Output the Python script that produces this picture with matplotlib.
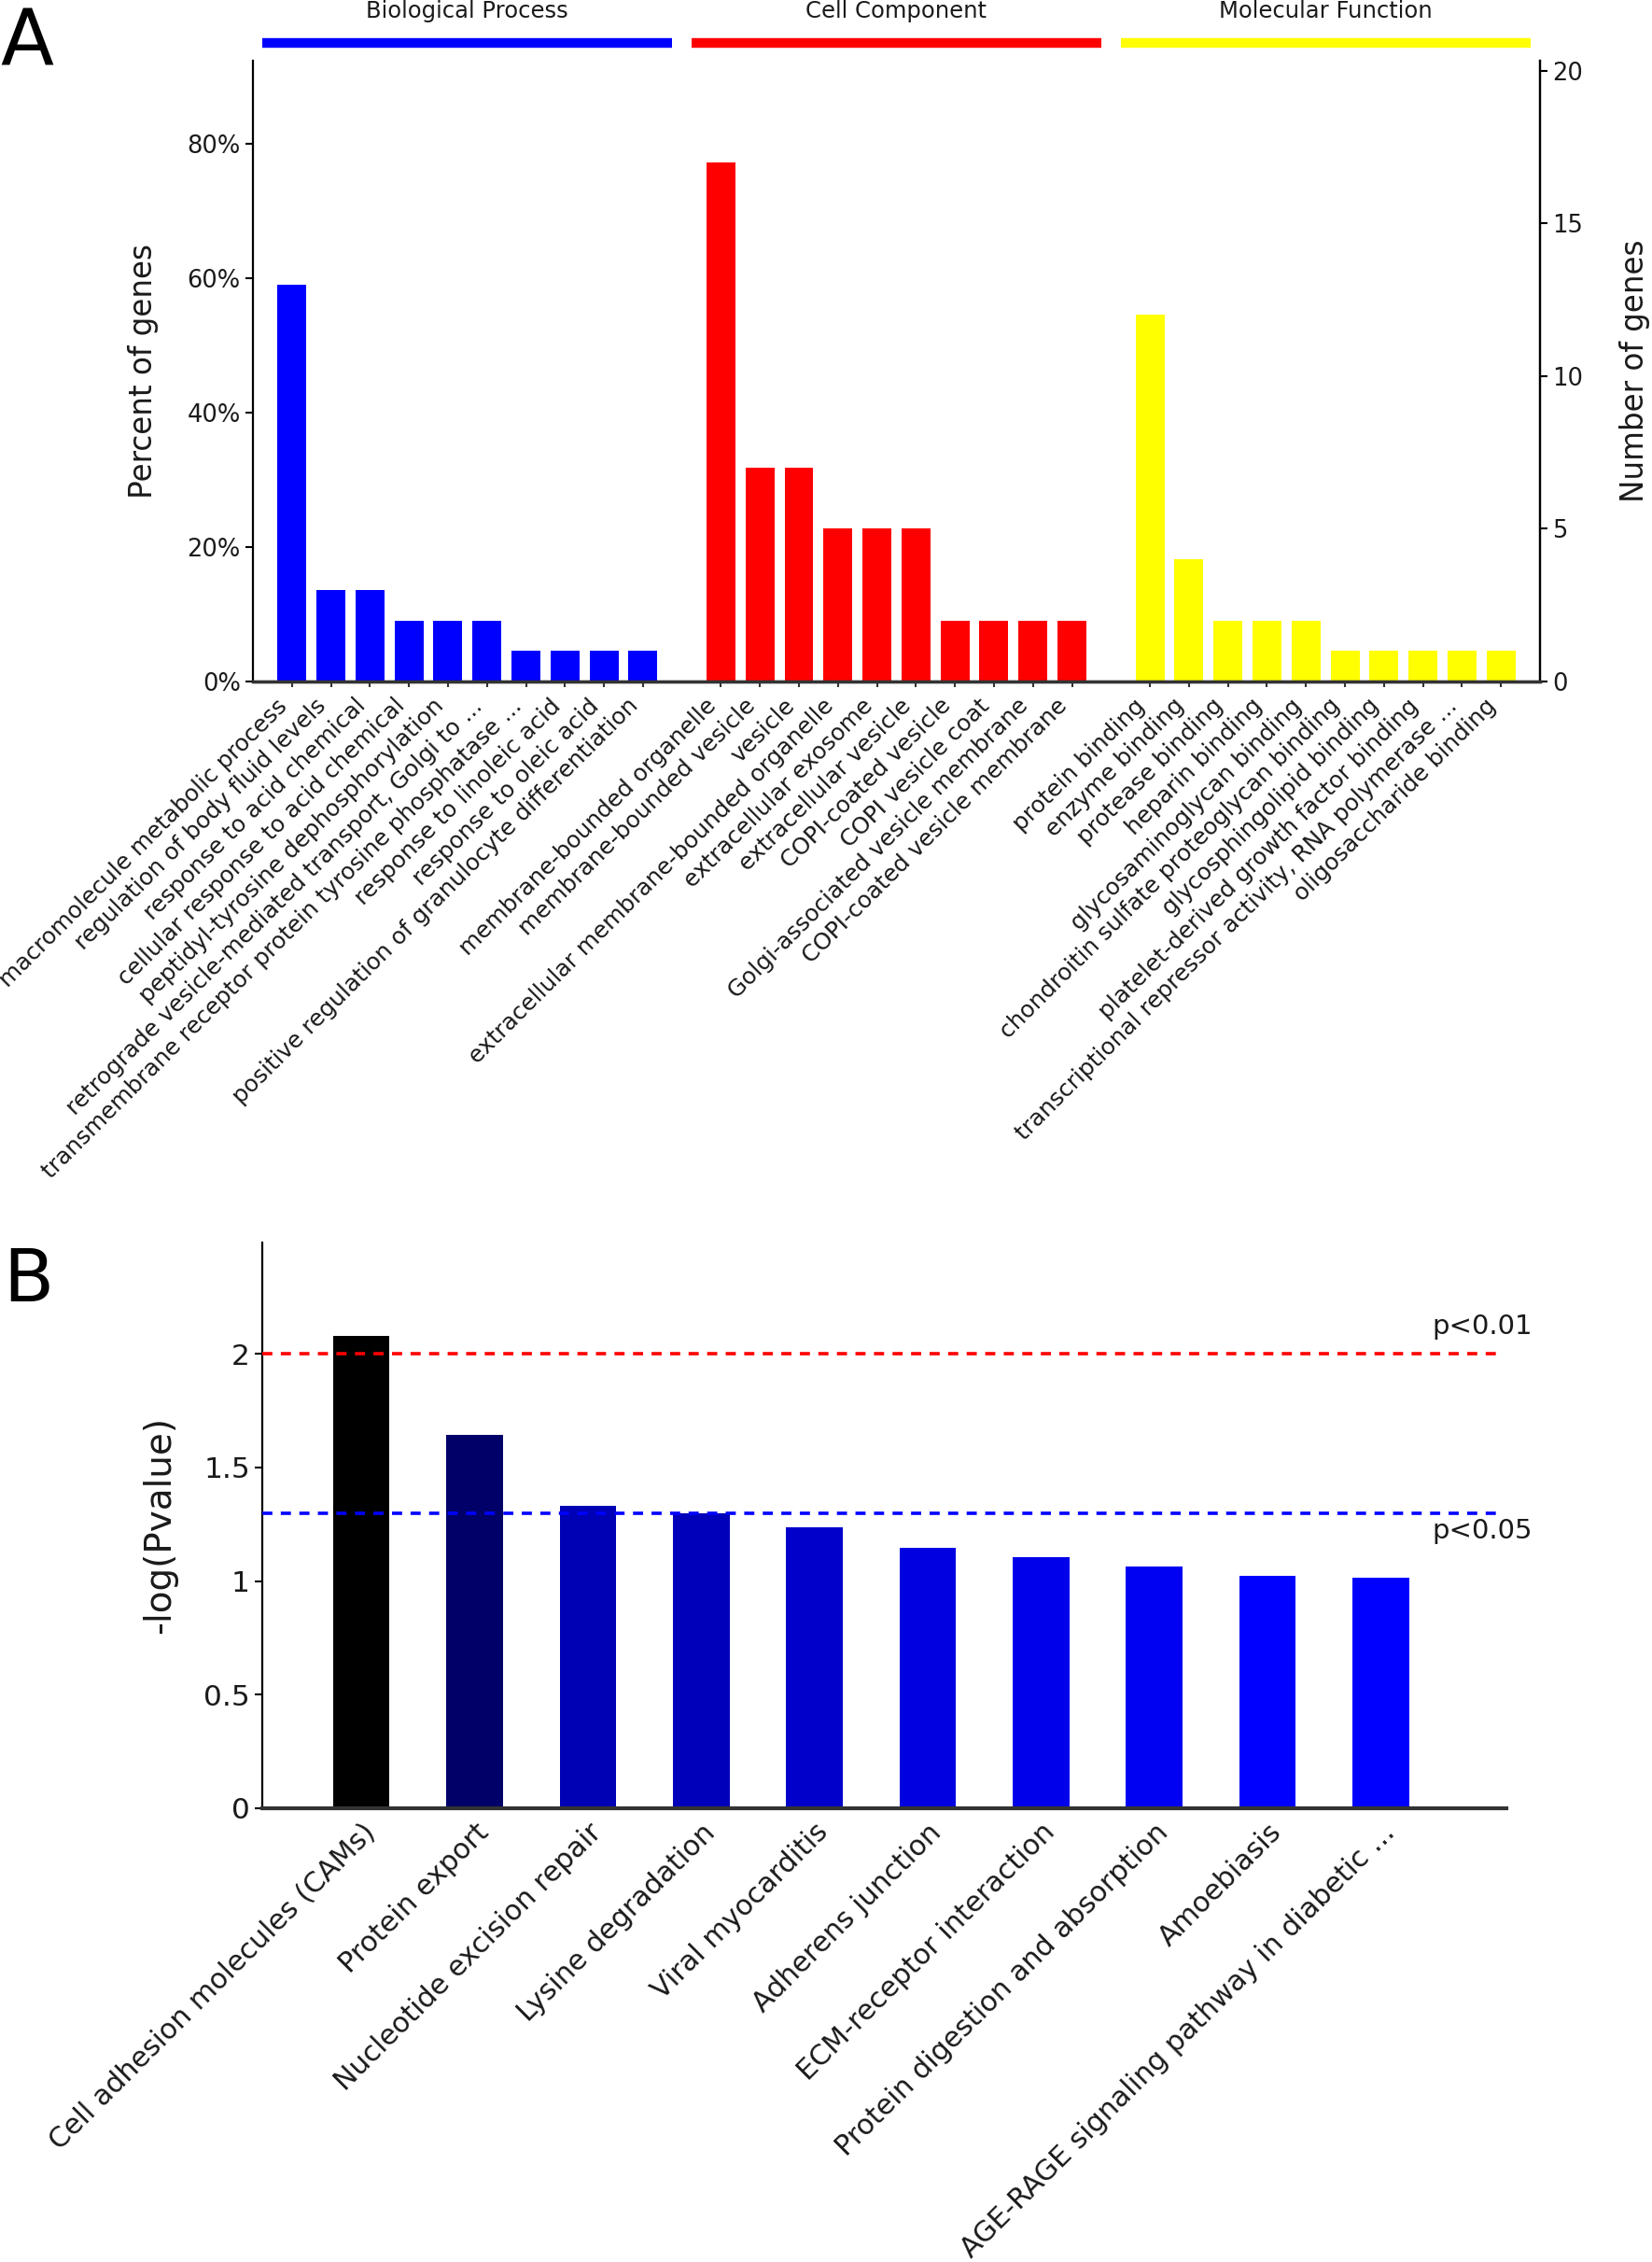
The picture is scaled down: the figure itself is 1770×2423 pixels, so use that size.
import numpy as np
import matplotlib.pyplot as plt
from matplotlib.ticker import FuncFormatter
import matplotlib.transforms as mtransforms

# ---- panel A : GO annotation ----
n_total = 22
bp_terms = ['macromolecule metabolic process', 'regulation of body fluid levels',
            'response to acid chemical', 'cellular response to acid chemical',
            'peptidyl-tyrosine dephosphorylation',
            'retrograde vesicle-mediated transport, Golgi to ...',
            'transmembrane receptor protein tyrosine phosphatase ...',
            'response to linoleic acid', 'response to oleic acid',
            'positive regulation of granulocyte differentiation']
bp_counts = [13, 3, 3, 2, 2, 2, 1, 1, 1, 1]
cc_terms = ['membrane-bounded organelle', 'membrane-bounded vesicle', 'vesicle',
            'extracellular membrane-bounded organelle', 'extracellular exosome',
            'extracellular vesicle', 'COPI-coated vesicle', 'COPI vesicle coat',
            'Golgi-associated vesicle membrane', 'COPI-coated vesicle membrane']
cc_counts = [17, 7, 7, 5, 5, 5, 2, 2, 2, 2]
mf_terms = ['protein binding', 'enzyme binding', 'protease binding', 'heparin binding',
            'glycosaminoglycan binding', 'chondroitin sulfate proteoglycan binding',
            'glycosphingolipid binding', 'platelet-derived growth factor binding',
            'transcriptional repressor activity, RNA polymerase ...',
            'oligosaccharide binding']
mf_counts = [12, 4, 2, 2, 2, 1, 1, 1, 1, 1]
groups = ['Biological Process', 'Cell Component', 'Molecular Function']
group_colors = ['#0000ff', '#ff0000', '#ffff00']

# ---- panel B : KEGG pathways ----
kegg_terms = ['Cell adhesion molecules (CAMs)', 'Protein export', 'Nucleotide excision repair',
              'Lysine degradation', 'Viral myocarditis', 'Adherens junction',
              'ECM-receptor interaction', 'Protein digestion and absorption',
              'Amoebiasis', 'AGE-RAGE signaling pathway in diabetic ...']
kegg_logp = [2.077, 1.645, 1.330, 1.298, 1.236, 1.146, 1.104, 1.064, 1.021, 1.016]
cut_01 = 2.0
cut_05 = 1.3

txt = '#1a1a1a'
plt.rcParams['font.family'] = 'DejaVu Sans'
fig = plt.figure(figsize=(17.7, 24.23), dpi=100)

# ================= A =================
ax = fig.add_axes([0.1531, 0.6987, 0.7791, 0.2745])
ax2 = ax.twinx()
all_terms, all_counts, all_cols, pos = [], [], [], []
spans = []
for g, (terms, counts) in enumerate([(bp_terms, bp_counts), (cc_terms, cc_counts), (mf_terms, mf_counts)]):
    start = g * (len(terms) + 1)
    p = list(range(start, start + len(terms)))
    pos += p
    all_terms += terms
    all_counts += counts
    all_cols += [group_colors[g]] * len(terms)
    spans.append((p[0], p[-1]))

pct = np.array(all_counts) / n_total * 100
ax.bar(pos, pct, width=0.74, color=all_cols, zorder=2)
top_count = 20.33
ax2.set_ylim(0, top_count)
ax.set_ylim(0, top_count / n_total * 100)
ax.set_xlim(-1.0, 32.0)
ax.set_yticks([0, 20, 40, 60, 80])
ax.yaxis.set_major_formatter(FuncFormatter(lambda v, _: '%d%%' % v))
ax2.set_yticks([0, 5, 10, 15, 20])
ax.set_xticks(pos)
ax.set_xticklabels(all_terms, rotation=45, ha='right', fontsize=17.8, color=txt)
ax.tick_params(axis='x', length=4, width=1.5, pad=6, color='#333333')
ax.tick_params(axis='y', labelsize=18.5, labelcolor=txt, length=6, width=1.5)
ax2.tick_params(axis='y', labelsize=18.5, labelcolor=txt, length=6, width=1.5)
ax.set_ylabel('Percent of genes', fontsize=23.5, color=txt, labelpad=22)
ax2.set_ylabel('Number of genes', fontsize=23.5, color=txt, labelpad=28)
for a in (ax, ax2):
    a.spines['top'].set_visible(False)
    a.spines['left'].set_linewidth(1.6)
    a.spines['right'].set_linewidth(1.6)
    a.spines['bottom'].set_linewidth(2.4)
    a.spines['bottom'].set_color('#333333')
ax2.spines['left'].set_visible(False)

trans = mtransforms.blended_transform_factory(ax.transData, ax.transAxes)
for g, (s, e) in enumerate(spans):
    ax.plot([s - 0.75, e + 0.75], [1.028, 1.028], color=group_colors[g], lw=7.5,
            solid_capstyle='butt', transform=trans, clip_on=False)
    ax.text((s + e) / 2, 1.069, groups[g], transform=trans, ha='center', va='baseline',
            fontsize=17.5, color=txt)

fig.text(0.0, 1 - 6 / 2423, 'A', fontsize=60, ha='left', va='top', color='black')

# ================= B =================
bx = fig.add_axes([0.1588, 0.2006, 0.7531, 0.2501])
vals = np.array(kegg_logp)
frac = (vals.max() - vals) / (vals.max() - vals.min())
cols = [(0, 0, f) for f in frac]
xb = np.arange(len(kegg_terms))
bx.bar(xb, vals, width=0.5, color=cols, zorder=2)
bx.set_xlim(-0.874, 10.11)
bx.set_ylim(0, 2.49)
bx.axhline(cut_01, xmin=0, xmax=0.993, color='#ff0000', ls=(0, (3, 2.5)), lw=2.6, zorder=3)
bx.axhline(cut_05, xmin=0, xmax=0.993, color='#0000ff', ls=(0, (3, 2.5)), lw=2.6, zorder=3)
bx.text(9.45, cut_01 + 0.12, 'p<0.01', fontsize=21, color=txt, ha='left', va='center')
bx.text(9.45, cut_05 - 0.08, 'p<0.05', fontsize=21, color=txt, ha='left', va='center')
bx.set_yticks([0, 0.5, 1, 1.5, 2])
bx.yaxis.set_major_formatter(FuncFormatter(lambda v, _: '%g' % v))
bx.set_xticks(xb)
bx.set_xticklabels(kegg_terms, rotation=45, ha='right', rotation_mode='anchor', fontsize=21.6, color=txt)
bx.tick_params(axis='x', length=0, pad=8)
bx.tick_params(axis='y', labelsize=22.5, labelcolor=txt, length=6, width=1.5)
bx.set_ylabel('-log(Pvalue)', fontsize=28, color=txt, labelpad=20)
bx.spines['top'].set_visible(False)
bx.spines['right'].set_visible(False)
bx.spines['left'].set_linewidth(1.6)
bx.spines['bottom'].set_linewidth(3)
bx.spines['bottom'].set_color('#333333')

fig.text(0.002, 1 - 1334 / 2423, 'B', fontsize=57, ha='left', va='top', color='black')

fig.savefig('out.png', dpi=100)
